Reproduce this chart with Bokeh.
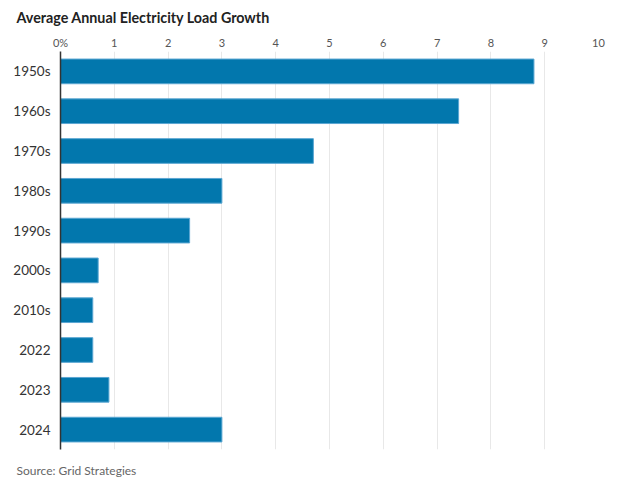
from bokeh.plotting import figure
from bokeh.models import FactorRange, Range1d, FixedTicker, Title
from bokeh.embed import file_html
from bokeh.resources import INLINE

categories = ["1950s", "1960s", "1970s", "1980s", "1990s", "2000s", "2010s", "2022", "2023", "2024"]
values = [8.8, 7.4, 4.7, 3.0, 2.4, 0.7, 0.6, 0.6, 0.9, 3.0]
tick_values = [0, 1, 2, 3, 4, 5, 6, 7, 8, 9, 10]
tick_labels = {0: "0%"}

FONT = "Lato"

p = figure(frame_width=538, frame_height=398, output_backend="svg", toolbar_location=None,
           y_range=FactorRange(factors=list(reversed(categories))),
           x_range=Range1d(0, 10), x_axis_location="above",
           min_border_left=60, min_border_right=20, min_border_bottom=37, min_border_top=50)

p.hbar(y=categories, right=values, left=0, height=0.62,
       fill_color="#0277ad", line_color="#5aa6d2", line_width=1)

p.outline_line_color = None
p.background_fill_color = "white"
p.border_fill_color = "white"

xa = p.xaxis[0]
xa.ticker = FixedTicker(ticks=tick_values)
xa.major_label_overrides = tick_labels
xa.axis_line_color = None
xa.major_tick_line_color = None
xa.minor_tick_line_color = None
xa.major_label_text_font = FONT
xa.major_label_text_font_size = "11px"
xa.major_label_text_color = "#555555"
xa.major_label_standoff = -3

ya = p.yaxis[0]
ya.axis_line_color = "#333333"
ya.axis_line_width = 1.5
ya.major_tick_line_color = None
ya.minor_tick_line_color = None
ya.major_label_text_font = FONT
ya.major_label_text_font_size = "13.5px"
ya.major_label_text_color = "#333333"
ya.major_label_standoff = 4

p.xgrid.ticker = FixedTicker(ticks=tick_values[1:])
p.xgrid.grid_line_color = "#e8e8e8"
p.ygrid.grid_line_color = None

p.title.text = "Average Annual Electricity Load Growth"
p.title.text_font = FONT
p.title.text_font_size = "14.3px"
p.title.text_font_style = "bold"
p.title.text_color = "#222222"
p.title.align = "left"
p.title.offset = -44
p.title.standoff = 13

src = Title(text="Source: Grid Strategies", text_font=FONT, text_font_size="12px",
            text_font_style="normal", text_color="#666666", align="left", offset=-44,
            standoff=23)
p.add_layout(src, "below")

open("out.html", "w").write(file_html(p, INLINE))
